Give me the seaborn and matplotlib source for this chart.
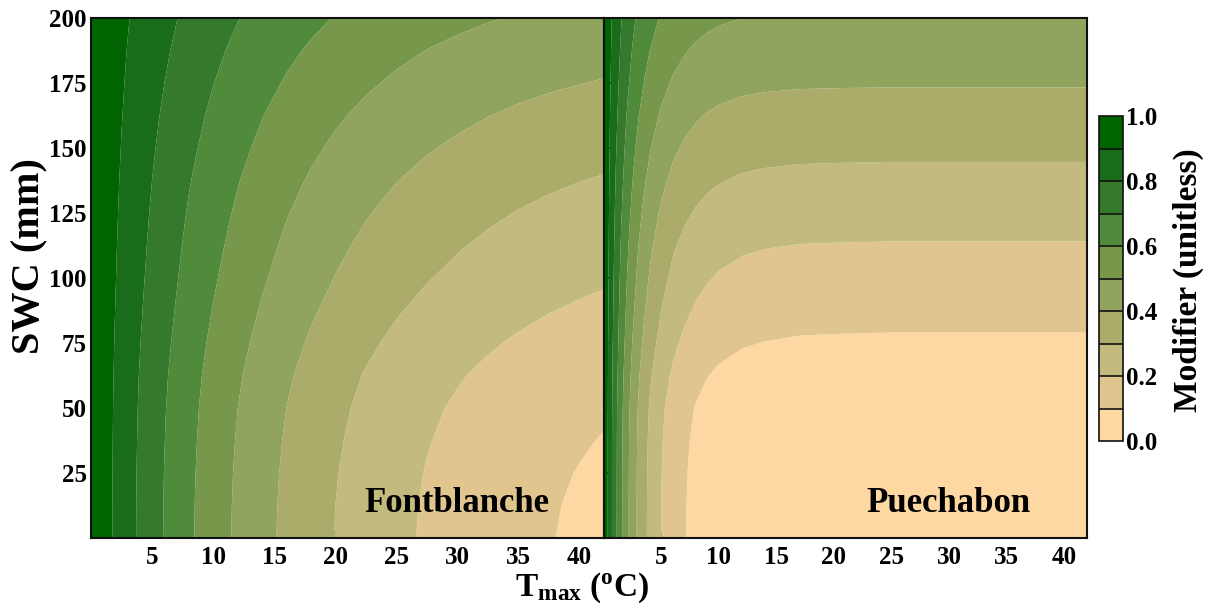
import numpy as np
import matplotlib
matplotlib.use("Agg")
import matplotlib.pyplot as plt
from matplotlib.colors import ListedColormap, BoundaryNorm
import seaborn as sns

# soil water content rows (mm), shared by both sites
swc = [0, 12.5, 25, 37.5, 50, 62.5, 75, 87.5, 100, 112.5, 125, 137.5, 150, 162.5, 175, 187.5, 200]

# Fontblanche: temperature part (read along SWC = 0) and water part (read at Tmax = 42)
tmax_fb = [0, 1, 2, 3, 4, 5, 6, 8, 10, 12, 14, 16, 18, 20, 22.5, 25, 27.5, 30, 32.5, 35, 37.5, 40, 42]
temp_fb = [1.000, 0.941, 0.886, 0.834, 0.785, 0.739, 0.696, 0.616, 0.546, 0.484, 0.429, 0.380,
           0.337, 0.298, 0.256, 0.220, 0.189, 0.163, 0.140, 0.120, 0.103, 0.089, 0.079]
water_fb = [0.0, 0.003, 0.009, 0.019, 0.032, 0.052, 0.080, 0.111, 0.142, 0.171, 0.201,
            0.233, 0.268, 0.304, 0.343, 0.382, 0.425]

# Puechabon
tmax_pu = [0, 0.25, 0.5, 0.75, 1, 1.5, 2, 2.5, 3, 3.5, 4, 5, 6, 7, 8, 9, 10, 12, 14, 17, 20, 25, 30, 35, 42]
temp_pu = [1.000, 0.922, 0.850, 0.784, 0.723, 0.615, 0.523, 0.445, 0.378, 0.322, 0.274, 0.198,
           0.143, 0.104, 0.075, 0.054, 0.039, 0.020, 0.011, 0.004, 0.002, 0.0, 0.0, 0.0, 0.0]
water_pu = [0.0, 0.001, 0.004, 0.010, 0.022, 0.050, 0.088, 0.125, 0.160, 0.195, 0.235,
            0.276, 0.318, 0.361, 0.406, 0.448, 0.490]

sites = ["Fontblanche", "Puechabon"]
levels = [0, 0.1, 0.2, 0.3, 0.4, 0.5, 0.6, 0.7, 0.8, 0.9, 1.0]
level_colors = ["#fdd8a2", "#e0c68e", "#c3bb7e", "#abac6a", "#90a45e",
                "#77974b", "#508a3b", "#357a2c", "#196d1a", "#006400"]

sns.set_theme(style="ticks")
plt.rcParams["font.family"] = ["Liberation Serif", "DejaVu Serif"]
plt.rcParams["font.weight"] = "bold"
plt.rcParams["text.color"] = "black"
plt.rcParams["axes.labelcolor"] = "black"
plt.rcParams["xtick.color"] = "black"
plt.rcParams["ytick.color"] = "black"
plt.rcParams["mathtext.fontset"] = "custom"
plt.rcParams["mathtext.rm"] = "Liberation Serif:bold"
plt.rcParams["mathtext.bf"] = "Liberation Serif:bold"
plt.rcParams["mathtext.it"] = "Liberation Serif:bold"

cmap = ListedColormap(sns.color_palette(level_colors))
norm = BoundaryNorm(levels, cmap.N)

fig = plt.figure(figsize=(12.11, 6.08), dpi=100)
ax1 = fig.add_axes([91 / 1211, 70 / 608, 513 / 1211, 520 / 608])
ax2 = fig.add_axes([604 / 1211, 70 / 608, 483 / 1211, 520 / 608])
cax = fig.add_axes([1099 / 1211, 167 / 608, 24 / 1211, 325 / 608])

panels = [(ax1, tmax_fb, temp_fb, water_fb), (ax2, tmax_pu, temp_pu, water_pu)]
for (ax, tmax, temp, water), name in zip(panels, sites):
    # combined modifier table from the two read profiles
    grid = 1 - np.outer(1 - np.array(water), 1 - np.array(temp))
    cs = ax.contourf(tmax, swc, grid, levels=levels, cmap=cmap, norm=norm, antialiased=True)
    ax.set_xlim(0, 42)
    ax.set_ylim(0, 200)
    ax.set_xticks([5, 10, 15, 20, 25, 30, 35, 40])
    ax.set_yticks([25, 50, 75, 100, 125, 150, 175, 200])
    ax.tick_params(direction="in", top=True, right=True, length=5, width=1.2,
                   labelsize=18, color="#111111", labelcolor="black")
    ax.tick_params(axis="x", pad=6)
    ax.tick_params(axis="y", pad=3)
    for sp in ax.spines.values():
        sp.set_linewidth(1.5)
        sp.set_color("#111111")
    ax.text(0.714, 0.05, name, transform=ax.transAxes, ha="center", va="baseline",
            fontsize=25, fontweight="bold", color="black")
    for lab in ax.get_xticklabels() + ax.get_yticklabels():
        lab.set_fontweight("bold")

ax2.tick_params(labelleft=False)

cbar = fig.colorbar(cs, cax=cax, ticks=[0, 0.2, 0.4, 0.6, 0.8, 1.0], drawedges=True)
cbar.ax.minorticks_off()
cbar.ax.set_yticklabels(["0.0", "0.2", "0.4", "0.6", "0.8", "1.0"], fontsize=18, fontweight="bold")
cbar.ax.tick_params(length=0, pad=2, labelcolor="black")
cbar.outline.set_linewidth(1.2)
cbar.outline.set_edgecolor("#111111")
cbar.dividers.set_color("#111111")
cbar.dividers.set_linewidth(1.2)

fig.text(30 / 1211, 1 - 256 / 608, "SWC (mm)", rotation=90, ha="center", va="center",
         fontsize=29, fontweight="bold")
fig.text(582 / 1211, 1 - 588 / 608, r"T$_{\mathregular{max}}$ ($^{\mathregular{o}}$C)",
         ha="center", va="center", fontsize=24, fontweight="bold")
fig.text(1188 / 1211, 1 - 280 / 608, "Modifier (unitless)", rotation=90, ha="center",
         va="center", fontsize=24, fontweight="bold")

fig.savefig("out.png", dpi=100)
